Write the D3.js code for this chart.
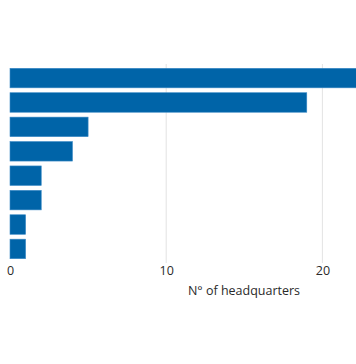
<!DOCTYPE html>
<html><head><meta charset="utf-8">
<script src="https://cdn.jsdelivr.net/npm/d3@7"></script>
<style>body{margin:0;background:#fff}svg{display:block}</style>
</head><body>
<svg id="c" width="356" height="364"></svg>
<script>
const categories = ["1","2","3","4","5","6","7","8"];
const values = [25, 19, 5, 4, 2, 2, 1, 1];
const ticks = [0, 10, 20];
const axisTitle = "N° of headquarters";

const svg = d3.select("#c");
const x = d3.scaleLinear().domain([0, 20]).range([10, 322.4]);
const y = d3.scaleBand().domain(categories).range([68.3, 258.7]).paddingInner(0.2).paddingOuter(0);

svg.append("g").selectAll("line").data(ticks.filter(t => t > 0)).join("line")
  .attr("x1", d => x(d)).attr("x2", d => x(d))
  .attr("y1", 64).attr("y2", 263)
  .attr("stroke", "#e3e3e3").attr("stroke-width", 1);

svg.append("g").selectAll("rect").data(values).join("rect")
  .attr("x", x(0))
  .attr("y", (d, i) => y(categories[i]))
  .attr("width", d => x(d) - x(0))
  .attr("height", y.bandwidth())
  .attr("fill", "#0064a8")
  .attr("stroke", "#3c8bc6").attr("stroke-width", 0.6);

const axis = d3.axisBottom(x).tickValues(ticks).tickSize(0).tickPadding(0);
const ag = svg.append("g").attr("transform", "translate(0,266)").call(axis);
ag.select(".domain").remove();
ag.selectAll("text").attr("font-family", "'Open Sans', sans-serif").attr("font-size", 12.5)
  .attr("fill", "#2a2a2a").attr("dy", "0.75em");

svg.append("text").attr("x", 244).attr("y", 295)
  .attr("text-anchor", "middle")
  .attr("font-family", "'Open Sans', sans-serif").attr("font-size", 12.5)
  .attr("fill", "#2a2a2a").text(axisTitle);
</script>
</body></html>
